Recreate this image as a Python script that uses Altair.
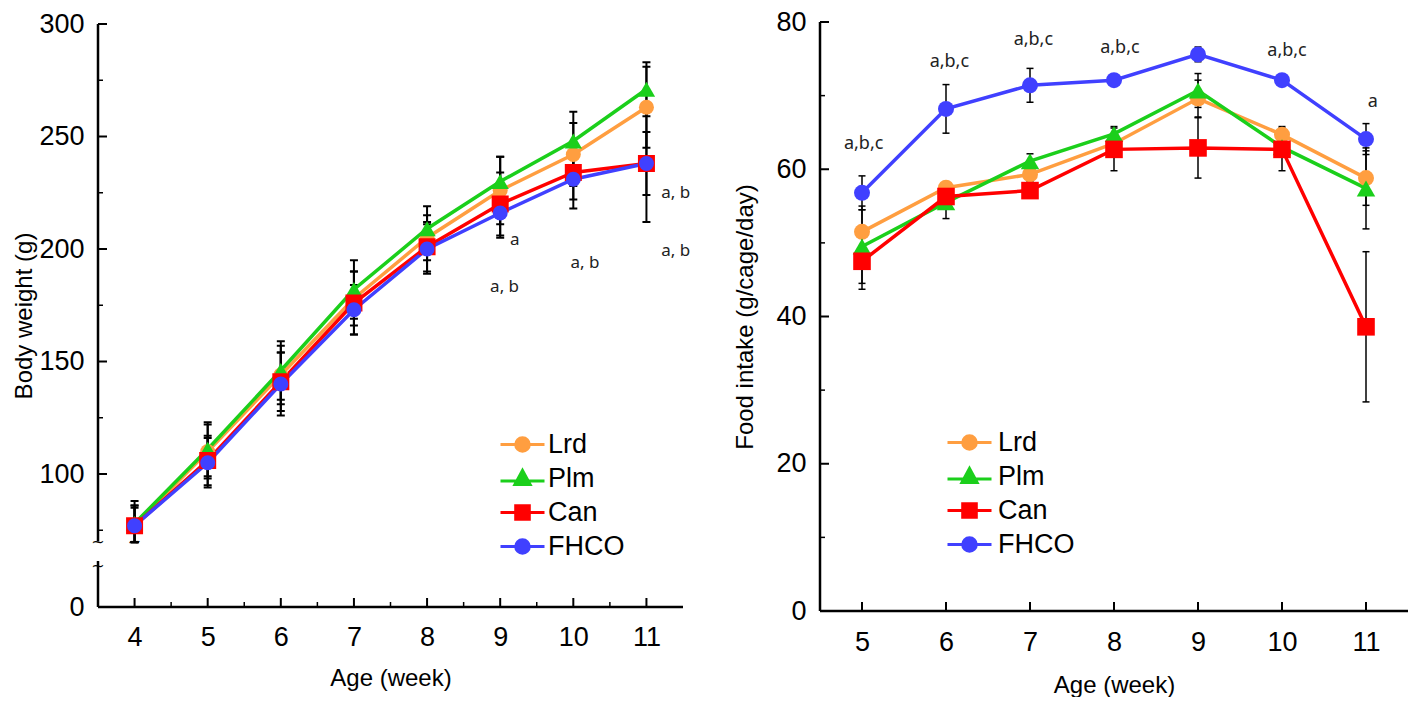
import altair as alt
import pandas as pd

FONT = "Liberation Sans"
ANN_FONT = "Noto Sans"

series = ["Lrd", "Plm", "Can", "FHCO"]
colors = ["#FF9E40", "#1BCF1B", "#FF0000", "#4040FF"]
marker_shapes = ["circle", "triangle-up", "square", "circle"]
legend_paths = [
    "M-2.75,0H2.75M0.85,0A0.85,0.85,0,1,0,-0.85,0A0.85,0.85,0,1,0,0.85,0Z",
    "M-2.75,0.3H2.75M0,-1L0.95,0.75L-0.95,0.75Z",
    "M-2.75,0H2.75M-0.85,-0.85H0.85V0.85H-0.85Z",
    "M-2.75,0H2.75M0.85,0A0.85,0.85,0,1,0,-0.85,0A0.85,0.85,0,1,0,0.85,0Z",
]

# ---------- Body weight (left) ----------
bw_weeks = [4, 5, 6, 7, 8, 9, 10, 11]
bw_lrd = [77, 110, 144, 178, 205, 226, 242, 263]
bw_plm = [78, 111, 146, 182, 209, 230, 248, 271]
bw_can = [77, 106, 141, 176, 201, 220, 234, 238]
bw_fhco = [77, 105, 140, 173, 200, 216, 231, 238]
bw_lrd_sd = [9, 12, 13, 12, 10, 15, 14, 18]
bw_plm_sd = [10, 12, 13, 13, 10, 11, 13, 12]
bw_can_sd = [8, 11, 13, 14, 11, 14, 12, 26]
bw_fhco_sd = [9, 11, 14, 11, 11, 11, 13, 14]
bw_ticks = [0, 100, 150, 200, 250, 300]
bw_minor = [75, 125, 175, 225, 275]
bw_xticks = [4, 5, 6, 7, 8, 9, 10, 11]
bw_xminor = [4.5, 5.5, 6.5, 7.5, 8.5, 9.5, 10.5]
bw_ann_x = [9.2, 9.06, 10.16, 11.4, 11.4]
bw_ann_y = [204, 183, 194, 225, 199]
bw_ann_text = ["a", "a, b", "a, b", "a, b", "a, b"]

# ---------- Food intake (right) ----------
fi_weeks = [5, 6, 7, 8, 9, 10, 11]
fi_lrd = [51.5, 57.5, 59.3, 63.5, 69.6, 64.7, 58.8]
fi_plm = [49.5, 55.5, 61.1, 64.8, 70.7, 63.0, 57.4]
fi_can = [47.5, 56.3, 57.1, 62.7, 62.9, 62.7, 38.6]
fi_fhco = [56.8, 68.2, 71.4, 72.1, 75.6, 72.1, 64.1]
fi_lrd_sd = [3.5, 0.6, 1.0, 1.0, 2.5, 1.1, 3.7]
fi_plm_sd = [5.0, 2.2, 1.0, 1.0, 2.3, 1.0, 5.5]
fi_can_sd = [3.8, 1.5, 0.8, 2.9, 4.1, 2.9, 10.2]
fi_fhco_sd = [2.3, 3.3, 2.3, 0.4, 1.0, 0.3, 2.1]
fi_ticks = [0, 20, 40, 60, 80]
fi_minor = [10, 30, 50, 70]
fi_xticks = [5, 6, 7, 8, 9, 10, 11]
fi_ann_x = [5.02, 6.04, 7.04, 8.07, 10.06, 11.08]
fi_ann_y = [63.4, 74.6, 77.5, 76.5, 76.1, 69.1]
fi_ann_text = ["a,b,c", "a,b,c", "a,b,c", "a,b,c", "a,b,c", "a"]


def make_long(weeks, means, sds):
    rows = []
    for s, m_list, e_list in zip(series, means, sds):
        for w, m, e in zip(weeks, m_list, e_list):
            rows.append({"series": s, "week": w, "value": m, "lo": m - e, "hi": m + e})
    return pd.DataFrame(rows)


def panel(df, *, xdom, xticks, xminor, ydom, yrange, yticks, yminor, yseg, ytitle,
          w, h, lx, ly, loff, ann, ann_size, msizes, line_w, bar_w, cap,
          xlab_pad, xtitle_pad, ytitle_pad, breaks=None):
    xs = alt.Scale(domain=xdom, nice=False, zero=False)
    if yrange is not None:
        ys = alt.Scale(domain=ydom, range=yrange, nice=False, zero=False)
    else:
        ys = alt.Scale(domain=ydom, nice=False, zero=False)
    xaxis = alt.Axis(values=xticks, title="Age (week)", labelPadding=xlab_pad,
                     titlePadding=xtitle_pad, format="d")
    yaxis = alt.Axis(values=yticks, title=ytitle, labelPadding=14,
                     titlePadding=ytitle_pad, format="d")

    def X(f):
        return alt.X(f, type="quantitative", scale=xs, axis=xaxis)

    def Y(f):
        return alt.Y(f, type="quantitative", scale=ys, axis=yaxis)

    layers = []
    # axis lines
    yl = pd.DataFrame({"week": [xdom[0]] * len(yseg), "lo": [a for a, b in yseg], "hi": [b for a, b in yseg]})
    layers.append(alt.Chart(yl).mark_rule(color="black", strokeWidth=2.5).encode(
        x=X("week"), y=Y("lo"), y2="hi"))
    xl = pd.DataFrame({"week": [xdom[0]], "week2": [xdom[1]], "value": [0]})
    layers.append(alt.Chart(xl).mark_rule(color="black", strokeWidth=2.5).encode(
        x=X("week"), x2="week2", y=Y("value")))
    # inward ticks
    layers.append(alt.Chart(pd.DataFrame({"week": xticks, "value": 0})).mark_tick(
        orient="vertical", size=9, thickness=2, color="black", opacity=1, yOffset=-4.5).encode(
        x=X("week"), y=Y("value")))
    if xminor:
        layers.append(alt.Chart(pd.DataFrame({"week": xminor, "value": 0})).mark_tick(
            orient="vertical", size=5, thickness=1.5, color="black", opacity=1, yOffset=-2.5).encode(
            x=X("week"), y=Y("value")))
    layers.append(alt.Chart(pd.DataFrame({"week": xdom[0], "value": yticks})).mark_tick(
        orient="horizontal", size=9, thickness=2, color="black", opacity=1, xOffset=4.5).encode(
        x=X("week"), y=Y("value")))
    layers.append(alt.Chart(pd.DataFrame({"week": xdom[0], "value": yminor})).mark_tick(
        orient="horizontal", size=5, thickness=1.5, color="black", opacity=1, xOffset=2.5).encode(
        x=X("week"), y=Y("value")))
    if breaks is not None:
        layers.append(alt.Chart(breaks).mark_text(text="~", fontSize=16, font="DejaVu Sans",
                                                  color="black").encode(x=X("week"), y=Y("value")))
    # error bars
    layers.append(alt.Chart(df).mark_rule(color="black", strokeWidth=bar_w).encode(
        x=X("week"), y=Y("lo"), y2="hi"))
    for fld in ["lo", "hi"]:
        layers.append(alt.Chart(df).mark_tick(orient="horizontal", size=cap, thickness=bar_w,
                                              color="black", opacity=1).encode(x=X("week"), y=Y(fld)))
    # lines
    for i, s in enumerate(series):
        sub = df[df.series == s]
        layers.append(alt.Chart(sub).mark_line(color=colors[i], strokeWidth=line_w, opacity=1).encode(
            x=X("week"), y=Y("value")))
    # markers
    for i, s in enumerate(series):
        sub = df[df.series == s]
        layers.append(alt.Chart(sub).mark_point(filled=True, opacity=1, shape=marker_shapes[i],
                                                size=msizes[i], color=colors[i]).encode(
            x=X("week"), y=Y("value")))
    # annotations
    layers.append(alt.Chart(ann).mark_text(font=ANN_FONT, fontSize=ann_size, color="#222222",
                                           align="center", baseline="middle").encode(
        x=X("week"), y=Y("value"), text="label:N"))
    # legend (real legend, no visible marks)
    leg = alt.Legend(title=None, orient="none", legendX=lx, legendY=ly, labelFontSize=27,
                     labelFont=FONT, labelColor="black", symbolSize=256, symbolStrokeWidth=3,
                     labelOffset=loff, rowPadding=6, padding=0, symbolOpacity=1)
    layers.append(alt.Chart(df).transform_filter("false").mark_point(
        filled=True, size=256, strokeWidth=3, opacity=1).encode(
        x=X("week"), y=Y("value"),
        color=alt.Color("series:N", scale=alt.Scale(domain=series, range=colors), legend=leg),
        stroke=alt.Stroke("series:N", scale=alt.Scale(domain=series, range=colors), legend=leg),
        shape=alt.Shape("series:N", scale=alt.Scale(domain=series, range=legend_paths), legend=leg),
    ))
    return alt.layer(*layers).properties(width=w, height=h)


bw_df = make_long(bw_weeks, [bw_lrd, bw_plm, bw_can, bw_fhco], [bw_lrd_sd, bw_plm_sd, bw_can_sd, bw_fhco_sd])
fi_df = make_long(fi_weeks, [fi_lrd, fi_plm, fi_can, fi_fhco], [fi_lrd_sd, fi_plm_sd, fi_can_sd, fi_fhco_sd])
bw_ann = pd.DataFrame({"week": bw_ann_x, "value": bw_ann_y, "label": bw_ann_text})
fi_ann = pd.DataFrame({"week": fi_ann_x, "value": fi_ann_y, "label": fi_ann_text})
bw_breaks = pd.DataFrame({"week": [3.5, 3.5, 4.0], "value": [70, 18, 70]})

H = 589
left = panel(bw_df, xdom=[3.5, 11.5], xticks=bw_xticks, xminor=bw_xminor,
             ydom=[0, 20, 70, 300], yrange=[585, 539, 519.5, 2],
             yticks=bw_ticks, yminor=bw_minor, yseg=[(70, 300), (0, 20)],
             ytitle="Body weight (g)", w=585, h=H, lx=411, ly=409, loff=12,
             ann=bw_ann, ann_size=17, msizes=[225, 300, 289, 225], line_w=3.5,
             bar_w=2, cap=8, xlab_pad=13, xtitle_pad=16, ytitle_pad=2, breaks=bw_breaks)
right = panel(fi_df, xdom=[4.5, 11.5], xticks=fi_xticks, xminor=None,
              ydom=[0, 80], yrange=None, yticks=fi_ticks, yminor=fi_minor, yseg=[(0, 80)],
              ytitle="Food intake (g/cage/day)", w=588, h=H, lx=136, ly=407, loff=15,
              ann=fi_ann, ann_size=18, msizes=[256, 340, 310, 256], line_w=3.5,
              bar_w=1.5, cap=7, xlab_pad=18, xtitle_pad=18, ytitle_pad=18)

chart = alt.hconcat(left, right, spacing=137, bounds="flush").resolve_scale(
    color="independent", stroke="independent", shape="independent"
).properties(padding={"left": 4, "top": 0, "right": 0, "bottom": 0}).configure_view(
    stroke=None
).configure_axis(
    labelFont=FONT, labelFontSize=27, labelColor="black", titleFont=FONT, titleFontSize=24,
    titleFontWeight="normal", titleColor="black", domain=False, ticks=False, tickSize=0, grid=False
)

chart.save("out.html", embed_options={"renderer": "svg", "actions": False})
